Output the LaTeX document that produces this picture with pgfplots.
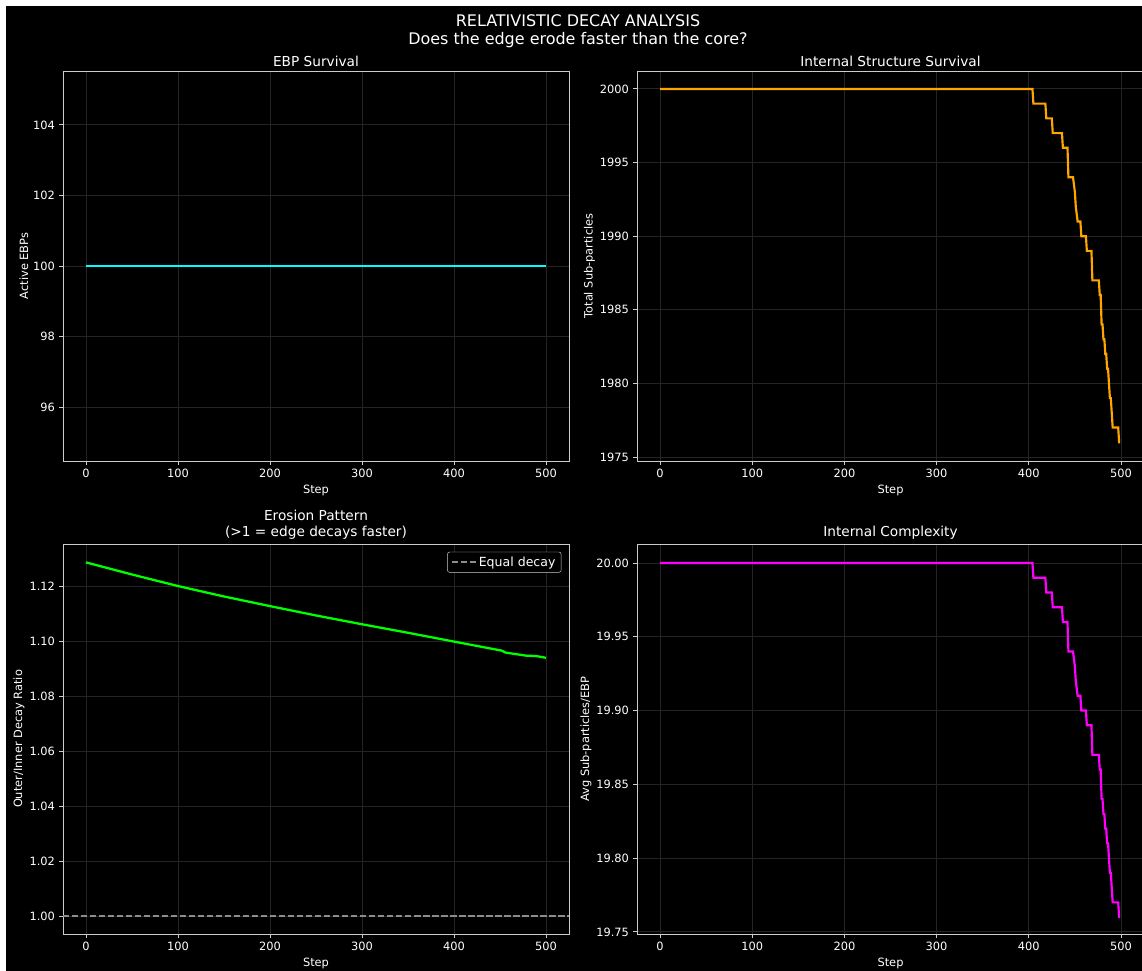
\documentclass[border=0pt]{standalone}
\usepackage{pgfplots}
\pgfplotsset{compat=1.18}
\usepackage{fontspec}
\setmainfont{DejaVu Sans}
\definecolor{spine}{HTML}{CCCCCC}
\definecolor{gridc}{HTML}{242424}
\definecolor{mcyan}{HTML}{00FFFF}
\definecolor{morange}{HTML}{FFA500}
\definecolor{mlime}{HTML}{00FF00}
\definecolor{mmag}{HTML}{FF00FF}
\definecolor{dashg}{HTML}{8C8C8C}
\pgfplotsset{
  darkax/.style={
    scale only axis,
    height=342.11pt,
    axis background/.style={fill=black},
    axis line style={draw=spine, line width=0.8pt},
    grid=major,
    major grid style={draw=gridc, line width=0.8pt},
    tick align=outside,
    major tick length=3.5pt,
    tick style={draw=spine, line width=0.8pt},
    tick pos=left,
    xtick={0,100,200,300,400,500},
    xmin=-25, xmax=525,
    ticklabel style={font=\fontsize{10}{12}\selectfont, text=white},
    label style={font=\fontsize{10}{12}\selectfont, text=white},
    ylabel shift=-2.5pt,
    title style={font=\fontsize{12}{14.4}\selectfont, text=white, align=center, yshift=-5.5pt},
    /pgf/number format/assume math mode=true,
    /pgf/number format/set thousands separator={},
    xticklabel style={/pgf/number format/fixed, /pgf/number format/precision=0},
  }
}
\begin{document}
\begin{tikzpicture}
\useasboundingbox (0,0) rectangle (1001.76pt,851.75pt);
\fill[white] (0,0) rectangle (1001.76pt,851.75pt);
\fill[black] (5.263pt,0) rectangle (1001.76pt,846.49pt);

% Top-left
\begin{axis}[darkax, at={(55.26pt,447.37pt)}, anchor=south west, width=443.86pt,
  ymin=94.47, ymax=105.53, ytick={96,98,100,102,104},
  title={EBP Survival}, xlabel={Step}, ylabel={Active EBPs}]
\addplot[mcyan, line width=2.4pt] coordinates {(0,100) (500,100)};
\end{axis}

% Top-right
\begin{axis}[darkax, at={(558.78pt,447.37pt)}, anchor=south west, width=444.74pt,
  ymin=1974.73, ymax=2001.22, ytick={1975,1980,1985,1990,1995,2000},
  yticklabel style={/pgf/number format/fixed, /pgf/number format/precision=0},
  title={Internal Structure Survival}, xlabel={Step}, ylabel={Total Sub-particles}]
\addplot[morange, line width=1.9pt] coordinates {
(0,2000) (404,2000) (405,1999) (418,1999) (419,1998) (425,1998) (426,1997)
(436,1997) (437,1996) (442,1996) (443,1994) (448,1994) (450,1993) (451,1992)
(453,1991) (456,1991) (457,1990) (462,1990) (463,1989) (468,1989) (469,1987)
(476,1987) (477,1986) (478,1986) (479,1984) (480,1984) (481,1983) (482,1983)
(483,1982) (484,1982) (485,1981) (486,1981) (488,1979) (489,1979) (491,1977)
(497,1977) (498,1976) (499,1976)};
\end{axis}

% Bottom-left
\begin{axis}[darkax, at={(55.26pt,32.46pt)}, anchor=south west, width=443.86pt,
  ymin=0.99345, ymax=1.1353, ytick={1.00,1.02,1.04,1.06,1.08,1.10,1.12},
  yticklabel style={/pgf/number format/fixed, /pgf/number format/fixed zerofill, /pgf/number format/precision=2},
  title={Erosion Pattern\\(>1 = edge decays faster)}, xlabel={Step}, ylabel={Outer/Inner Decay Ratio},
  legend style={at={(0.985,0.98)}, anchor=north east, fill=black, draw=spine, rounded corners=2pt,
    text=white, font=\fontsize{11}{13}\selectfont, inner xsep=3pt, inner ysep=2pt},
  legend image code/.code={\draw[#1] (0pt,0pt) -- (21pt,0pt);},
  legend cell align=left]
\addplot[mlime, line width=2pt, forget plot] coordinates {
(0,1.1286) (50,1.1242) (100,1.1200) (150,1.1162) (200,1.1127) (250,1.1093)
(300,1.1061) (350,1.1030) (400,1.0998) (452,1.0965) (456,1.0958) (470,1.0951)
(478,1.0947) (490,1.0945) (500,1.0939)};
\addplot[dashg, line width=1.5pt, dash pattern=on 5.5pt off 2.4pt] coordinates {(-25,1.0) (525,1.0)};
\addlegendentry{Equal decay}
\end{axis}

% Bottom-right
\begin{axis}[darkax, at={(558.78pt,32.46pt)}, anchor=south west, width=444.74pt,
  ymin=19.7486, ymax=20.0129, ytick={19.75,19.80,19.85,19.90,19.95,20.00},
  yticklabel style={/pgf/number format/fixed, /pgf/number format/fixed zerofill, /pgf/number format/precision=2},
  title={Internal Complexity}, xlabel={Step}, ylabel={Avg Sub-particles/EBP}]
\addplot[mmag, line width=1.9pt] coordinates {
(0,20.00) (404,20.00) (405,19.99) (418,19.99) (419,19.98) (425,19.98) (426,19.97)
(436,19.97) (437,19.96) (442,19.96) (443,19.94) (448,19.94) (450,19.93) (451,19.92)
(453,19.91) (456,19.91) (457,19.90) (462,19.90) (463,19.89) (468,19.89) (469,19.87)
(476,19.87) (477,19.86) (478,19.86) (479,19.84) (480,19.84) (481,19.83) (482,19.83)
(483,19.82) (484,19.82) (485,19.81) (486,19.81) (488,19.79) (489,19.79) (491,19.77)
(497,19.77) (498,19.76) (499,19.76)};
\end{axis}

\node[text=white, align=center, font=\fontsize{14}{15.8}\selectfont] at (507.0pt,824.5pt)
  {RELATIVISTIC DECAY ANALYSIS\\Does the edge erode faster than the core?};
\end{tikzpicture}
\end{document}
